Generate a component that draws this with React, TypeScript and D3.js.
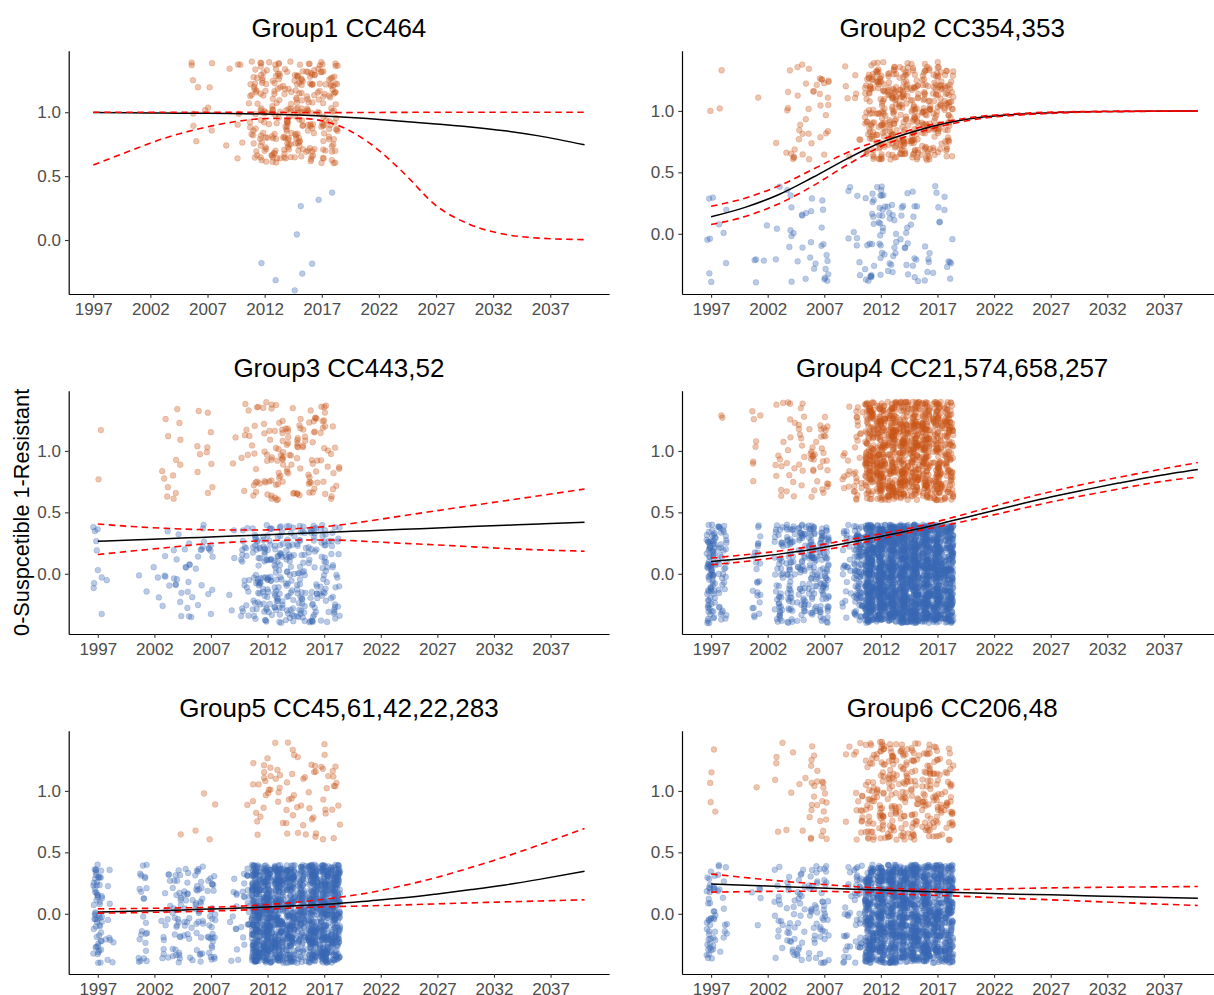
import React, { useEffect, useRef } from "react";
import * as d3 from "d3";

// isolate years (x categories) and counts per year: 0 = susceptible, 1 = resistant
const YEARS = [1997, 1998, 1999, 2000, 2001, 2002, 2003, 2004, 2005, 2006, 2007, 2008, 2009, 2010, 2011, 2012, 2013, 2014, 2015, 2016, 2017, 2018];
const TICK_YEARS = [1997, 2002, 2007, 2012, 2017, 2022, 2027, 2032, 2037];
const Y_TICKS = [0, 0.5, 1];

const group1Susceptible = [0, 0, 0, 0, 0, 0, 0, 0, 0, 0, 0, 0, 0, 0, 0, 1, 1, 0, 4, 1, 1, 1];
const group1Resistant = [0, 0, 0, 0, 0, 0, 0, 0, 0, 7, 5, 0, 2, 6, 25, 35, 40, 38, 45, 40, 30, 40];
const group2Susceptible = [6, 4, 0, 0, 3, 2, 3, 8, 6, 6, 12, 0, 3, 6, 18, 22, 15, 12, 10, 6, 6, 8];
const group2Resistant = [1, 2, 0, 0, 1, 0, 1, 10, 10, 8, 15, 0, 4, 5, 50, 60, 60, 60, 55, 55, 50, 45];
const group3Susceptible = [10, 1, 0, 0, 2, 3, 6, 10, 12, 10, 8, 0, 4, 20, 35, 45, 45, 40, 40, 35, 30, 25];
const group3Resistant = [2, 0, 0, 0, 0, 0, 6, 8, 0, 4, 7, 0, 2, 8, 12, 20, 25, 15, 18, 22, 15, 10];
const group4Susceptible = [90, 40, 0, 0, 25, 0, 45, 50, 50, 60, 70, 0, 25, 90, 260, 280, 280, 280, 270, 260, 250, 220];
const group4Resistant = [0, 2, 0, 0, 8, 0, 10, 12, 12, 15, 20, 0, 10, 25, 120, 140, 140, 140, 130, 130, 120, 100];
const group5Susceptible = [60, 10, 0, 0, 25, 0, 15, 30, 20, 30, 30, 0, 12, 20, 220, 220, 200, 180, 120, 200, 200, 180];
const group5Resistant = [0, 0, 0, 0, 0, 0, 0, 1, 0, 2, 2, 0, 0, 1, 8, 12, 8, 12, 8, 10, 10, 10];
const group6Susceptible = [45, 15, 0, 0, 5, 0, 15, 20, 20, 25, 30, 0, 20, 30, 180, 200, 200, 200, 210, 200, 180, 170];
const group6Resistant = [5, 0, 0, 0, 1, 0, 5, 3, 3, 15, 12, 0, 3, 15, 35, 40, 45, 40, 35, 40, 35, 30];

// logistic fit and 95% band, read at these years
const CURVE_YEARS = [1997, 2000, 2003, 2006, 2009, 2012, 2015, 2018, 2021, 2024, 2027, 2030, 2033, 2036, 2040];

const group1Fit = [0.997, 0.996, 0.994, 0.992, 0.99, 0.986, 0.978, 0.966, 0.95, 0.93, 0.908, 0.885, 0.855, 0.815, 0.745];
const group1Upper = [1, 1, 1, 1, 1, 0.999, 0.998, 0.997, 0.998, 0.999, 1, 1, 1, 1, 1];
const group1Lower = [0.587, 0.69, 0.79, 0.865, 0.92, 0.95, 0.952, 0.91, 0.77, 0.54, 0.27, 0.12, 0.045, 0.015, 0.003];

const group2Fit = [0.138, 0.215, 0.32, 0.46, 0.61, 0.743, 0.835, 0.905, 0.95, 0.972, 0.986, 0.993, 0.996, 0.998, 0.999];
const group2Upper = [0.224, 0.29, 0.39, 0.525, 0.66, 0.765, 0.855, 0.918, 0.958, 0.978, 0.99, 0.995, 0.998, 0.999, 1];
const group2Lower = [0.075, 0.14, 0.245, 0.39, 0.56, 0.71, 0.815, 0.89, 0.94, 0.965, 0.98, 0.99, 0.994, 0.997, 0.999];

const group3Fit = [0.265, 0.275, 0.286, 0.296, 0.307, 0.318, 0.329, 0.34, 0.351, 0.362, 0.373, 0.384, 0.395, 0.405, 0.419];
const group3Upper = [0.405, 0.385, 0.37, 0.36, 0.356, 0.357, 0.37, 0.393, 0.43, 0.473, 0.514, 0.555, 0.595, 0.635, 0.69];
const group3Lower = [0.157, 0.185, 0.212, 0.24, 0.258, 0.27, 0.275, 0.274, 0.262, 0.248, 0.235, 0.22, 0.206, 0.195, 0.184];

const group4Fit = [0.1, 0.127, 0.16, 0.2, 0.25, 0.304, 0.36, 0.425, 0.493, 0.56, 0.625, 0.683, 0.738, 0.79, 0.848];
const group4Upper = [0.128, 0.155, 0.185, 0.225, 0.275, 0.325, 0.38, 0.45, 0.525, 0.6, 0.668, 0.73, 0.785, 0.838, 0.905];
const group4Lower = [0.073, 0.1, 0.135, 0.178, 0.228, 0.285, 0.345, 0.4, 0.46, 0.522, 0.584, 0.638, 0.69, 0.74, 0.788];

const group5Fit = [0.014, 0.02, 0.027, 0.036, 0.045, 0.055, 0.067, 0.082, 0.105, 0.13, 0.162, 0.197, 0.235, 0.28, 0.346];
const group5Upper = [0.04, 0.043, 0.046, 0.051, 0.06, 0.075, 0.098, 0.13, 0.172, 0.23, 0.297, 0.378, 0.465, 0.56, 0.695];
const group5Lower = [0.005, 0.009, 0.014, 0.02, 0.028, 0.038, 0.05, 0.058, 0.065, 0.072, 0.081, 0.089, 0.097, 0.104, 0.114];

const group6Fit = [0.243, 0.233, 0.222, 0.212, 0.202, 0.193, 0.184, 0.175, 0.167, 0.16, 0.154, 0.147, 0.141, 0.135, 0.127];
const group6Upper = [0.324, 0.295, 0.268, 0.245, 0.225, 0.21, 0.2, 0.196, 0.2, 0.206, 0.211, 0.214, 0.217, 0.219, 0.222];
const group6Lower = [0.176, 0.18, 0.183, 0.184, 0.178, 0.168, 0.155, 0.147, 0.135, 0.124, 0.114, 0.103, 0.092, 0.081, 0.068];

// jittered data extent on the y axis, per panel
const group1YExtent = [-0.336, 1.395];
const fullYExtent = [-0.4, 1.4];

const PANELS = [
  { title: "Group1 CC464", s: group1Susceptible, r: group1Resistant, fit: group1Fit, upper: group1Upper, lower: group1Lower, yExt: group1YExtent },
  { title: "Group2 CC354,353", s: group2Susceptible, r: group2Resistant, fit: group2Fit, upper: group2Upper, lower: group2Lower, yExt: fullYExtent },
  { title: "Group3 CC443,52", s: group3Susceptible, r: group3Resistant, fit: group3Fit, upper: group3Upper, lower: group3Lower, yExt: fullYExtent },
  { title: "Group4 CC21,574,658,257", s: group4Susceptible, r: group4Resistant, fit: group4Fit, upper: group4Upper, lower: group4Lower, yExt: fullYExtent },
  { title: "Group5 CC45,61,42,22,283", s: group5Susceptible, r: group5Resistant, fit: group5Fit, upper: group5Upper, lower: group5Lower, yExt: fullYExtent },
  { title: "Group6 CC206,48", s: group6Susceptible, r: group6Resistant, fit: group6Fit, upper: group6Upper, lower: group6Lower, yExt: fullYExtent },
];

const PLOT_LEFT = [68.7, 682];
const PLOT_TOP = [50.7, 390.7, 730.7];
const PLOT_W = 540.4;
const PLOT_H = 243.3;
const JITTER = 0.4;

const BLUE = "#3a68b4";
const ORANGE = "#c9561a";
const FONT = "'Liberation Sans', Arial, Helvetica, sans-serif";

const App: React.FC = () => {
  const ref = useRef<SVGSVGElement>(null);

  useEffect(() => {
    if (!ref.current) return;
    const svg = d3.select(ref.current);
    svg.selectAll("*").remove();

    PANELS.forEach((p, i) => {
      const left = PLOT_LEFT[i % 2];
      const top = PLOT_TOP[Math.floor(i / 2)];

      const usedYears = YEARS.filter((_y, k) => p.s[k] + p.r[k] > 0);
      const xMin = Math.min(CURVE_YEARS[0], (d3.min(usedYears) as number) - JITTER);
      const xMax = Math.max(CURVE_YEARS[CURVE_YEARS.length - 1], (d3.max(usedYears) as number) + JITTER);
      const xPad = (xMax - xMin) * 0.05;
      const x = d3.scaleLinear().domain([xMin - xPad, xMax + xPad]).range([left, left + PLOT_W]);

      const yPad = (p.yExt[1] - p.yExt[0]) * 0.05;
      const y = d3.scaleLinear().domain([p.yExt[0] - yPad, p.yExt[1] + yPad]).range([top + PLOT_H, top]);

      // geom_jitter-style placement, seeded so the picture is stable
      const rand = d3.randomLcg(0.137 * (i + 1));
      const jit = () => (rand() * 2 - 1) * JITTER;
      const pts: { x: number; y: number; v: number }[] = [];
      YEARS.forEach((yr, k) => {
        for (let n = 0; n < p.s[k]; n++) pts.push({ x: yr + jit(), y: 0 + jit(), v: 0 });
        for (let n = 0; n < p.r[k]; n++) pts.push({ x: yr + jit(), y: 1 + jit(), v: 1 });
      });

      const g = svg.append("g");

      g.append("g")
        .selectAll("circle")
        .data(pts)
        .enter()
        .append("circle")
        .attr("cx", (d) => x(d.x))
        .attr("cy", (d) => y(d.y))
        .attr("r", 2.9)
        .attr("fill", (d) => (d.v ? ORANGE : BLUE))
        .attr("fill-opacity", 0.35)
        .attr("stroke", (d) => (d.v ? ORANGE : BLUE))
        .attr("stroke-opacity", 0.35)
        .attr("stroke-width", 0.6);

      const line = d3
        .line<number>()
        .x((_d, k) => x(CURVE_YEARS[k]))
        .y((d) => y(d))
        .curve(d3.curveMonotoneX);

      g.append("path")
        .attr("d", line(p.fit))
        .attr("fill", "none")
        .attr("stroke", "#000")
        .attr("stroke-width", 1.5);

      [p.upper, p.lower].forEach((band) => {
        g.append("path")
          .attr("d", line(band))
          .attr("fill", "none")
          .attr("stroke", "#ff0000")
          .attr("stroke-width", 1.6)
          .attr("stroke-dasharray", "6.5,4.5");
      });

      // axes
      const xAxis = g
        .append("g")
        .attr("transform", `translate(0,${top + PLOT_H})`)
        .call(
          d3.axisBottom(x).tickValues(TICK_YEARS).tickFormat(d3.format("d")).tickSizeInner(3.7).tickSizeOuter(0).tickPadding(5.2)
        );
      const yAxis = g
        .append("g")
        .attr("transform", `translate(${left},0)`)
        .call(
          d3.axisLeft(y).tickValues(Y_TICKS).tickFormat(d3.format(".1f")).tickSizeInner(3.7).tickSizeOuter(0).tickPadding(4)
        );
      [xAxis, yAxis].forEach((ax) => {
        ax.select(".domain").attr("stroke", "#000").attr("stroke-width", 1.2);
        ax.selectAll(".tick line").attr("stroke", "#333").attr("stroke-width", 1.1);
        ax.selectAll(".tick text")
          .attr("fill", "#4d4d4d")
          .style("font-size", "17px")
          .style("font-family", FONT);
      });

      svg
        .append("text")
        .attr("x", left + PLOT_W / 2)
        .attr("y", top - 14)
        .attr("text-anchor", "middle")
        .style("font-size", "26px")
        .style("font-family", FONT)
        .style("fill", "#000")
        .text(p.title);
    });

    svg
      .append("text")
      .attr("transform", `translate(28.5,${PLOT_TOP[1] + PLOT_H / 2}) rotate(-90)`)
      .attr("text-anchor", "middle")
      .style("font-size", "21.7px")
      .style("font-family", FONT)
      .style("fill", "#000")
      .text("0-Suspcetible 1-Resistant");
  }, []);

  return (
    <svg
      ref={ref}
      width={1214}
      height={995}
      style={{ position: "absolute", left: 0, top: 0, background: "#fff" }}
    />
  );
};

export default App;
